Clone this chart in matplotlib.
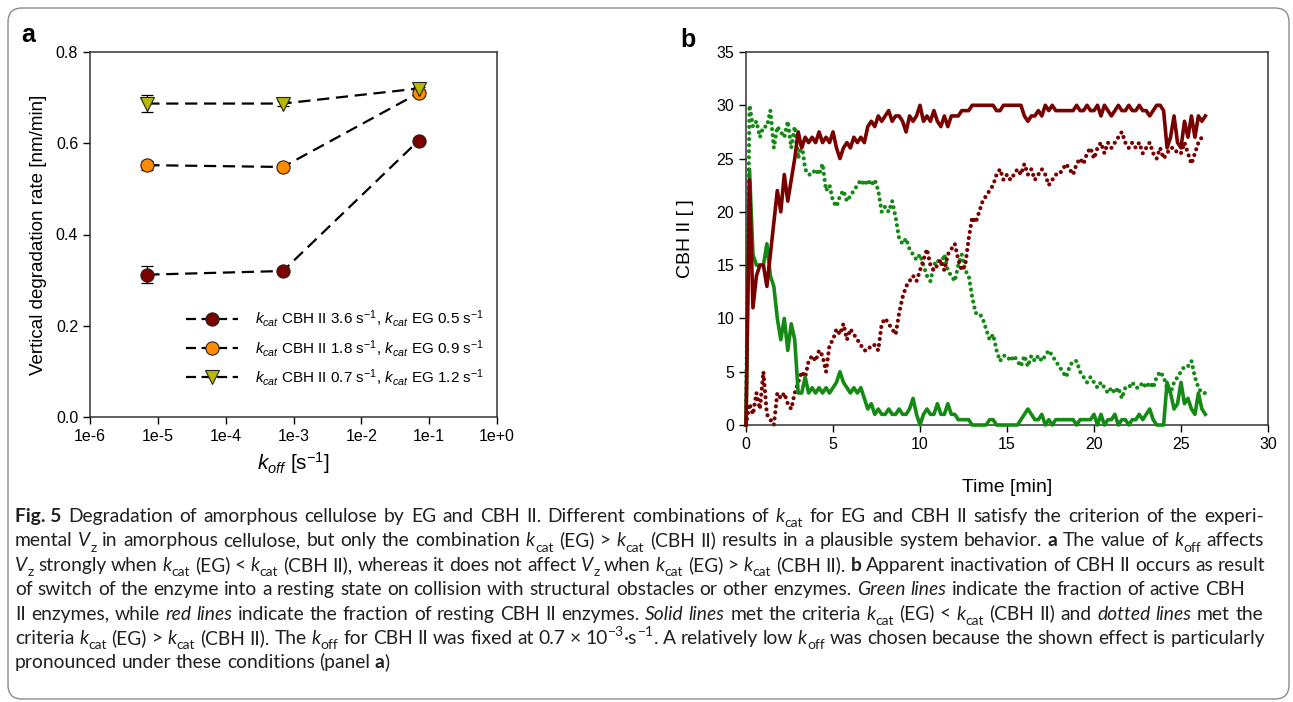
import re
import matplotlib
matplotlib.use('Agg')
import numpy as np
import matplotlib.pyplot as plt
from matplotlib.patches import FancyBboxPatch
from matplotlib.transforms import IdentityTransform
from matplotlib.lines import Line2D

plt.rcParams['font.family'] = ['Liberation Sans', 'DejaVu Sans']
plt.rcParams['mathtext.fontset'] = 'custom'
plt.rcParams['mathtext.rm'] = 'Liberation Sans'
plt.rcParams['mathtext.it'] = 'Liberation Sans:italic'
plt.rcParams['mathtext.bf'] = 'Liberation Sans:bold'

# ---------------- panel a data ----------------
koff = [7e-6, 7e-4, 7e-2]
rate_red = [0.312, 0.320, 0.606]
err_red = [0.018, 0.006, 0.005]
rate_orange = [0.552, 0.548, 0.710]
err_orange = [0.010, 0.005, 0.006]
rate_yellow = [0.687, 0.687, 0.720]
err_yellow = [0.019, 0.005, 0.004]
labels_a = [r'$k_{cat}$ CBH II 3.6 s$^{-1}$, $k_{cat}$ EG 0.5 s$^{-1}$',
            r'$k_{cat}$ CBH II 1.8 s$^{-1}$, $k_{cat}$ EG 0.9 s$^{-1}$',
            r'$k_{cat}$ CBH II 0.7 s$^{-1}$, $k_{cat}$ EG 1.2 s$^{-1}$']
xticks_a = [1e-6, 1e-5, 1e-4, 1e-3, 1e-2, 1e-1, 1e0]
xticklabels_a = ['1e-6', '1e-5', '1e-4', '1e-3', '1e-2', '1e-1', '1e+0']
yticks_a = [0.0, 0.2, 0.4, 0.6, 0.8]

# ---------------- panel b data (sampled every 0.2 min) ----------------
step_b = 0.2
rest_solid = [0, 23, 11, 14, 15,  15, 13, 16, 19, 22,  20, 23.5, 21, 23, 25,
              27.5, 26, 27, 26.5, 27,  26.5, 27.5, 26.5, 27, 26.5,  27.5, 26, 25, 26, 26.5,
              26, 27, 26.5, 27, 26.5,  28, 28.5, 28, 29, 28.5,  29, 29.5, 28.5, 29, 29,
              28.5, 27.5, 29, 28.5, 29,  30, 28.5, 29, 28.5, 29.5,  28.5, 28, 29, 28, 29,
              29, 29, 29.5, 29.5, 29.5,  30, 30, 30, 30, 30,  30, 30, 29.5, 29.5, 30,
              30, 30, 30, 30, 30,  29, 28.5, 29, 29, 29.5,  29, 30, 29.5, 30, 29.5,
              29.5, 29.5, 29.5, 29.5, 29.5,  30, 29.5, 29.5, 30, 29.5,  29.5, 30, 29, 30, 29.5,
              29, 29.5, 30, 29.5, 29.5,  30, 29.5, 29.5, 30, 29.5,  29.5, 29, 29.5, 30, 30,
              29.5, 26, 27, 29, 26.5,  26, 28.5, 27, 29, 27,  29, 28.5, 29]
active_solid = [0, 24, 16, 15, 15,  15, 17, 14, 13, 10,  8, 10, 7, 9.5, 8,
                3, 3, 4.5, 3, 3.5,  3, 3.5, 3, 3.5, 3,  3.5, 4, 5, 4, 3.5,
                3, 3.5, 3, 3.5, 2.5,  1.5, 2, 1, 1.5, 1,  1, 1.5, 1, 1, 1.5,
                1, 1, 1.5, 2.5, 1,  0, 1, 1.5, 1, 1,  2, 1, 1, 2, 1,
                1, 0.5, 0.5, 0.5, 0.5,  0, 0, 0, 0, 0,  0.5, 0.5, 0, 0, 0,
                0, 0, 0, 0, 0.5,  1, 1.5, 1, 0.5, 0.5,  1, 0, 0.5, 0, 0.5,
                0.5, 0.5, 0.5, 0.5, 0.5,  0, 0.5, 0.5, 0.5, 0.5,  1, 0, 1, 0, 0.5,
                0.5, 1, 0, 0.5, 0.5,  0, 0.5, 0.5, 1, 0.5,  1, 1.5, 0.5, 0, 0,
                0, 4, 3, 1.5, 2,  4, 2, 2.5, 1.5, 1,  3, 1.5, 1]
active_dot = [0, 30, 28, 28.5, 27,  28, 28, 29.5, 26, 28,  27.5, 27, 28.5, 26, 28,
              25, 26.5, 24, 23.5, 23.5,  24, 23.5, 24.5, 22, 22.5,  21, 20.5, 21.5, 22, 21,
              21.5, 22, 22.5, 23, 22.5,  23, 22.5, 23, 22, 20,  20.5, 20, 21, 19.5, 17.5,
              17, 17.5, 16.5, 16, 15.5,  16, 15, 14, 13.5, 15,  15.5, 15, 16, 14.5, 14,
              13.5, 15, 16, 14.5, 14,  12, 10.5, 10.5, 10, 9,  8, 8.5, 7, 6, 6.5,
              6.5, 6, 6.5, 6, 5.5,  6.5, 5.5, 6.5, 6, 6.5,  6, 6.5, 7, 6.5, 6,
              5.5, 5, 4.5, 5.5, 6,  6, 5, 4.5, 4, 4.5,  4, 3.5, 4, 3.5, 3,
              3.5, 3, 3.5, 2.5, 3.5,  3.5, 4, 3.5, 3.5, 4,  3.5, 4, 3.5, 4.5, 5,
              4.5, 3.5, 3, 4, 4.5,  5, 5.5, 5.5, 6, 4.5,  3.5, 3, 3]
rest_dot = [0, 2, 1, 3, 1.5,  5, 1, 0.5, 0, 3,  2.5, 3, 2, 1.5, 3,
            4, 5, 4.5, 6, 6.5,  6, 7, 6.5, 5, 7.5,  8, 9, 8.5, 9.5, 8,
            9, 8.5, 8, 7.5, 7,  7, 7.5, 7.5, 7, 9.5,  10, 9.5, 9, 8.5, 10.5,
            12, 13, 13.5, 14, 13.5,  14.5, 15.5, 16.5, 15, 14.5,  15, 15.5, 14.5, 16, 16.5,
            17, 15.5, 14.5, 15, 17.5,  19.5, 19, 20, 21, 21.5,  22, 22.5, 23.5, 24, 23,
            23.5, 23, 23.5, 24, 23.5,  24.5, 23.5, 24, 23, 23.5,  24, 23.5, 22.5, 23, 23.5,
            23.5, 24, 24.5, 24, 23.5,  24.5, 25, 24.5, 25.5, 26,  25, 26, 26.5, 25.5, 26.5,
            26, 26.5, 27, 27.5, 26.5,  26, 26.5, 26, 26.5, 25.5,  26, 26.5, 25.5, 25, 26,
            25, 25.5, 26, 26, 25.5,  25.5, 26.5, 25.5, 24.5, 25.5,  26.5, 27, 27]

# ---------------- caption ----------------
caption = [
    "!Fig.\u00a05!  Degradation of amorphous cellulose by EG and CBH II. Different combinations of *k*_{cat} for EG and CBH II satisfy the criterion of the experi-",
    "mental *V*_{z} in amorphous cellulose, but only the combination *k*_{cat} (EG) > *k*_{cat} (CBH II) results in a plausible system behavior. !a! The value of *k*_{off} affects",
    "*V*_{z} strongly when *k*_{cat} (EG) < *k*_{cat} (CBH II), whereas it does not affect *V*_{z} when *k*_{cat} (EG) > *k*_{cat} (CBH II). !b! Apparent inactivation of CBH II occurs as result",
    "of switch of the enzyme into a resting state on collision with structural obstacles or other enzymes. *Green* *lines* indicate the fraction of active CBH",
    "II enzymes, while *red* *lines* indicate the fraction of resting CBH II enzymes. *Solid* *lines* met the criteria *k*_{cat} (EG) < *k*_{cat} (CBH II) and *dotted* *lines* met the",
    "criteria *k*_{cat} (EG) > *k*_{cat} (CBH II). The *k*_{off} for CBH II was fixed at 0.7 \u00d7 10^{\u22123}\u00b7s^{\u22121}. A relatively low *k*_{off} was chosen because the shown effect is particularly",
    "pronounced under these conditions (panel !a!)",
]

W, H = 1293, 702
fig = plt.figure(figsize=(W / 100, H / 100), dpi=100)

# rounded frame around the whole figure
frame = FancyBboxPatch((8, 3), 1281, 691, boxstyle='round,pad=0,rounding_size=14',
                       transform=IdentityTransform(), fill=False,
                       edgecolor='#8c8c8c', linewidth=1.0)
fig.add_artist(frame)

spine_col = '#333333'

# ================= panel a =================
axa = fig.add_axes([90 / W, 1 - 417 / H, 407 / W, 365 / H])
series = [(rate_red, err_red, 'o', '#7b0000'),
          (rate_orange, err_orange, 'o', '#ff8c00'),
          (rate_yellow, err_yellow, 'v', '#b8b800')]
handles = []
for (vals, errs, mk, col), lab in zip(series, labels_a):
    axa.errorbar(koff, vals, yerr=errs, fmt='none', ecolor='black', elinewidth=0.9,
                 capsize=4.5, capthick=0.9, zorder=2)
    axa.plot(koff, vals, color='black', lw=1.6, dashes=(5.5, 3), zorder=1)
    axa.plot(koff, vals, ls='none', marker=mk, ms=9.5, mfc=col, mec='#222222',
             mew=0.8, zorder=3)
    handles.append(Line2D([], [], color='black', lw=1.6, dashes=(4.5, 2.5), marker=mk,
                          ms=9.5, mfc=col, mec='#222222', mew=0.8))
axa.set_xscale('log')
axa.set_xlim(1e-6, 1)
axa.set_ylim(0, 0.8)
axa.set_xticks(xticks_a)
axa.set_xticklabels(xticklabels_a)
axa.minorticks_off()
axa.set_yticks(yticks_a)
axa.set_yticklabels([f'{v:.1f}' for v in yticks_a])
axa.tick_params(direction='out', length=5, width=1, labelsize=11.5, colors='black')
for sp in axa.spines.values():
    sp.set_color(spine_col)
    sp.set_linewidth(1.1)
axa.set_ylabel('Vertical degradation rate [nm/min]', fontsize=13.5)
axa.yaxis.set_label_coords(-0.105, 0.5)
axa.set_xlabel(r'$k_{off}$ [s$^{-1}$]', fontsize=15)
axa.xaxis.set_label_coords(0.5, -0.09)
axa.legend(handles, labels_a, loc='lower right', bbox_to_anchor=(0.995, 0.05),
           frameon=False, fontsize=11, handlelength=3.4, handletextpad=1.1,
           labelspacing=0.55, borderpad=0.2)
fig.text(28 / W, 1 - 35 / H, 'a', fontsize=18, fontweight='bold', ha='center', va='center')

# ================= panel b =================
time_b = np.arange(len(rest_solid)) * step_b
axb = fig.add_axes([746 / W, 1 - 425 / H, 522 / W, 373 / H])
green = '#138a13'
maroon = '#7a0000'
axb.plot(time_b, active_dot, color=green, lw=3.0, ls=(0, (0.01, 1.45)),
         dash_capstyle='round', clip_on=False, zorder=2)
axb.plot(time_b, rest_dot, color=maroon, lw=3.0, ls=(0, (0.01, 1.45)),
         dash_capstyle='round', clip_on=False, zorder=2)
axb.plot(time_b, active_solid, color=green, lw=2.6, clip_on=False, zorder=3)
axb.plot(time_b, rest_solid, color=maroon, lw=2.6, clip_on=False, zorder=3)
axb.set_xlim(0, 30)
axb.set_ylim(0, 35)
axb.set_xticks(range(0, 31, 5))
axb.set_yticks(range(0, 36, 5))
axb.tick_params(direction='out', length=5, width=1, labelsize=11.5, colors='black')
for sp in axb.spines.values():
    sp.set_color(spine_col)
    sp.set_linewidth(1.1)
axb.set_ylabel('CBH II [ ]', fontsize=14)
axb.yaxis.set_label_coords(-0.1, 0.5)
axb.set_xlabel('Time [min]', fontsize=14)
axb.xaxis.set_label_coords(0.5, -0.145)
fig.text(688 / W, 1 - 40 / H, 'b', fontsize=18, fontweight='bold', ha='center', va='center')

# ================= caption (justified, word by word) =================
cap_col = '#231f20'
cap_font = ['Lato', 'DejaVu Sans']
renderer = fig.canvas.get_renderer()
run_re = re.compile(r'\*([^*]+)\*|!([^!]+)!|_\{([^}]+)\}|\^\{([^}]+)\}|([^*!_^]+)')


def make_word(word, fs):
    runs = []
    for it, bf, sub, sup, norm in run_re.findall(word):
        kw = dict(fontsize=fs, family=cap_font, color=cap_col, va='baseline')
        dy = 0
        if it:
            txt = it
            kw['style'] = 'italic'
        elif bf:
            txt = bf
            kw['weight'] = 'bold'
        elif sub:
            txt = sub
            kw['fontsize'] = fs * 0.72
            dy = -0.28 * fs
        elif sup:
            txt = sup
            kw['fontsize'] = fs * 0.72
            dy = 0.42 * fs
        else:
            txt = norm
        t = fig.text(0, 0, txt, **kw)
        t.dy = dy
        runs.append(t)
    widths = [r.get_window_extent(renderer).width for r in runs]
    return runs, widths


def split_words(line):
    return [w for w in line.split(' ') if w]


cap_x0 = 15
cap_right = [1264, 1264, 1265, 1245, 1263, 1265, None]
cap_base = 522
cap_lead = 24.4
space_em = 0.24

# pick the font size so that the tightest justified line has normal word gaps
fs0 = 12.0
fits = []
for i, line in enumerate(caption):
    if cap_right[i] is None:
        continue
    words = [make_word(w, fs0) for w in split_words(line)]
    total = sum(sum(wd) for _, wd in words)
    fits.append((cap_right[i] - cap_x0) / (total / fs0 + (len(words) - 1) * space_em * 100 / 72))
    for runs, _ in words:
        for r in runs:
            r.remove()
cap_fs = min(fits)

for i, line in enumerate(caption):
    words = [make_word(w, cap_fs) for w in split_words(line)]
    total = sum(sum(wd) for _, wd in words)
    if cap_right[i] is None:
        gap = space_em * cap_fs * 100 / 72
    else:
        gap = (cap_right[i] - cap_x0 - total) / (len(words) - 1)
    x = cap_x0
    yb = H - (cap_base + i * cap_lead)
    for runs, widths in words:
        for r, wd in zip(runs, widths):
            r.set_position((x / W, (yb + r.dy * 100 / 72) / H))
            x += wd
        x += gap

fig.savefig('out.png', dpi=100)
